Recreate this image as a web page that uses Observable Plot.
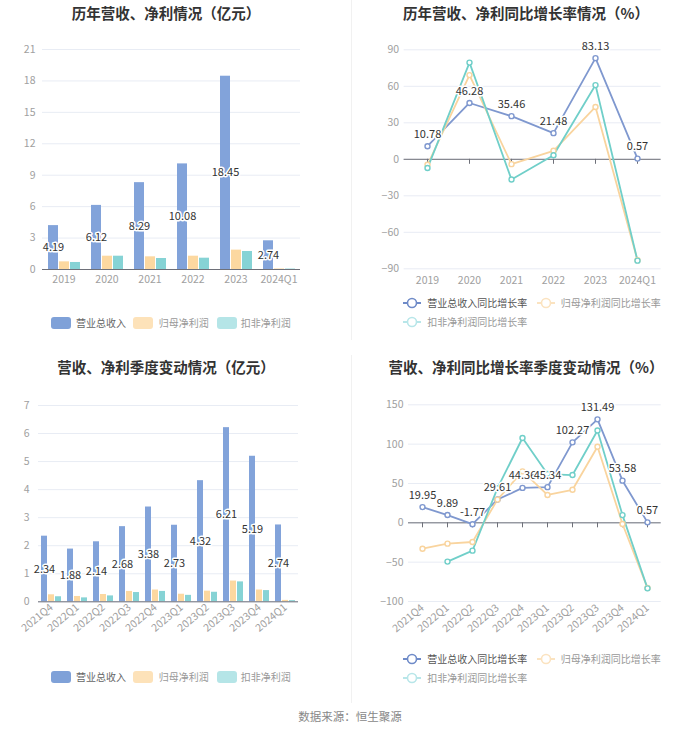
<!DOCTYPE html>
<html><head><meta charset="utf-8">
<script src="https://cdn.jsdelivr.net/npm/d3@7"></script>
<script src="https://cdn.jsdelivr.net/npm/@observablehq/plot@0.6"></script>
<style>
body{margin:0;background:#fff;font-family:"Noto Sans CJK SC","Noto Sans",sans-serif;}
#page{position:relative;width:700px;height:734px;overflow:hidden;background:#fff;}
.title{position:absolute;text-align:center;font-size:14.5px;font-weight:bold;color:#333;line-height:20px;white-space:nowrap;}
.chart{position:absolute;}
.leg{position:absolute;font-size:10px;color:#777;line-height:14px;white-space:nowrap;}
.sw{position:absolute;width:20px;height:12px;border-radius:3px;}
.sep{position:absolute;left:351px;width:1px;background:#f1f1f1;}
.cap{position:absolute;left:0;width:700px;top:708px;text-align:center;font-size:11.5px;color:#888;line-height:16px;}
</style></head>
<body>
<div id="page">
  <div class="sep" style="top:0;height:340px"></div>
  <div class="sep" style="top:355px;height:348px"></div>
  <div class="title" style="left:0;width:332px;top:3px">历年营收、净利情况（亿元）</div>
  <div class="title" style="left:352px;width:348px;top:3px">历年营收、净利同比增长率情况（%）</div>
  <div class="title" style="left:0;width:332px;top:357px">营收、净利季度变动情况（亿元）</div>
  <div class="title" style="left:352px;width:348px;top:357px">营收、净利同比增长率季度变动情况（%）</div>
  <div id="c1" class="chart" style="left:0;top:30px"></div>
  <div id="c2" class="chart" style="left:350px;top:30px"></div>
  <div id="c3" class="chart" style="left:0;top:385px"></div>
  <div id="c4" class="chart" style="left:350px;top:385px"></div>
  <div id="legends"></div>
  <div class="cap">数据来源：恒生聚源</div>
</div>
<script>
// ---------- data ----------
const years = ["2019", "2020", "2021", "2022", "2023", "2024Q1"];
const annualRevenue = [4.19, 6.12, 8.29, 10.08, 18.45, 2.74];
const annualNetProfit = [0.73, 1.27, 1.21, 1.27, 1.85, 0.05];
const annualDeductedProfit = [0.67, 1.27, 1.05, 1.08, 1.72, 0.04];

const annualRevenueGrowth = [10.78, 46.28, 35.46, 21.48, 83.13, 0.57];
const annualNetProfitGrowth = [-4.5, 69.2, -4.0, 7.0, 43.0, -83.0];
const annualDeductedGrowth = [-7.2, 79.5, -16.6, 3.3, 61.0, -83.3];

const quarters = ["2021Q4", "2022Q1", "2022Q2", "2022Q3", "2022Q4", "2023Q1", "2023Q2", "2023Q3", "2023Q4", "2024Q1"];
const quarterRevenue = [2.34, 1.88, 2.14, 2.68, 3.38, 2.73, 4.32, 6.21, 5.19, 2.74];
const quarterNetProfit = [0.25, 0.19, 0.26, 0.37, 0.42, 0.27, 0.38, 0.74, 0.42, 0.05];
const quarterDeductedProfit = [0.18, 0.14, 0.21, 0.33, 0.37, 0.23, 0.34, 0.71, 0.40, 0.04];

const quarterRevenueGrowth = [19.95, 9.89, -1.77, 29.61, 44.36, 45.34, 102.27, 131.49, 53.58, 0.57];
const quarterNetProfitGrowth = [-32.9, -26.5, -24.4, 29.5, 65.4, 35.4, 42.0, 96.6, -1.5, -82.8];
const quarterDeductedGrowth = [null, -49.3, -35.4, 44.0, 107.8, 62.0, 60.7, 117.3, 9.8, -83.3];

const barTicksAnnual = [0, 3, 6, 9, 12, 15, 18, 21];
const barTicksQuarter = [0, 1, 2, 3, 4, 5, 6, 7];
const growthTicksAnnual = [-90, -60, -30, 0, 30, 60, 90];
const growthTicksQuarter = [-100, -50, 0, 50, 100, 150];

const seriesNames = ["营业总收入", "归母净利润", "扣非净利润"];
const growthNames = ["营业总收入同比增长率", "归母净利润同比增长率", "扣非净利润同比增长率"];
const barColors = ["#82a3da", "#fcd8a0", "#86d3d5"];
const lineColors = ["#7f98cf", "#f9d49e", "#70cfc9"];
const legendBarColors = ["#7fa1d8", "#fde2b9", "#b5e5e7"];
const legendLineColors = ["#6f8bc8", "#fbe3c0", "#b8e6e9"];

// ---------- helpers ----------
function toRows(cats, arrays, names) {
  const rows = [];
  cats.forEach((c, i) => arrays.forEach((arr, k) => rows.push({cat: c, series: names[k], value: arr[i]})));
  return rows;
}
const baseStyle = {color: "#a0a0a0", fontSize: "10.5px", fontFamily: "'Noto Sans CJK SC', sans-serif", background: "transparent", overflow: "visible"};

function barChart(o) {
  const rows = toRows(o.cats, o.values, seriesNames);
  const revRows = rows.filter(d => d.series === seriesNames[0]);
  return Plot.plot({
    width: o.width, height: o.height,
    marginTop: o.mt, marginBottom: o.mb, marginLeft: o.ml, marginRight: o.mr,
    style: baseStyle,
    fx: {domain: o.cats, padding: 0, label: null},
    x: {domain: seriesNames, paddingInner: o.pi, paddingOuter: o.po, axis: null},
    y: {domain: o.yDomain, label: null},
    color: {domain: seriesNames, range: barColors},
    marks: [
      Plot.gridY(o.yTicks, {stroke: "#e8ecf4", strokeOpacity: 1}),
      Plot.axisY(o.yTicks, {tickSize: 0, tickPadding: o.ytp, label: null}),
      Plot.axisFx({anchor: "bottom", tickSize: 0, tickPadding: o.xtp, tickRotate: o.rotate || 0, label: null}),
      Plot.barY(rows, {fx: "cat", x: "series", y: "value", fill: "series"}),
      Plot.ruleY([0], {stroke: "#6e7079"}),
      Plot.text(revRows, {fx: "cat", x: "series", y: d => d.value / 2, text: d => d.value.toFixed(2),
        fill: "#333", stroke: "white", strokeWidth: 3, fontSize: 11})
    ]
  });
}

function lineChart(o) {
  const rows = toRows(o.cats, o.values, growthNames);
  const revRows = rows.filter(d => d.series === growthNames[0]);
  return Plot.plot({
    width: o.width, height: o.height,
    marginTop: o.mt, marginBottom: o.mb, marginLeft: o.ml, marginRight: o.mr,
    style: baseStyle,
    x: {type: "point", domain: o.cats, padding: 0.5, label: null},
    y: {domain: o.yDomain, label: null},
    color: {domain: growthNames, range: lineColors},
    marks: [
      Plot.gridY(o.yTicks, {stroke: "#e8ecf4", strokeOpacity: 1}),
      Plot.axisY(o.yTicks, {tickSize: 0, tickPadding: o.ytp, label: null}),
      Plot.axisX({anchor: "bottom", tickSize: 0, tickPadding: o.xtp, tickRotate: o.rotate || 0, label: null}),
      Plot.ruleY([0], {stroke: "#6e7079"}),
      Plot.ruleX(o.cats, {x: d => d, y1: 0, y2: 0, insetBottom: -5, stroke: "#6e7079"}),
      Plot.line(rows, {x: "cat", y: "value", z: "series", stroke: "series", strokeWidth: 1.8}),
      Plot.dot(rows, {x: "cat", y: "value", stroke: "series", fill: "white", r: 2.5, strokeWidth: 1.4}),
      Plot.text(revRows, {x: "cat", y: "value", text: d => d.value.toFixed(2), dy: -12,
        fill: "#333", stroke: "white", strokeWidth: 3, fontSize: 11})
    ]
  });
}

// ---------- charts ----------
document.getElementById("c1").append(barChart({
  cats: years, values: [annualRevenue, annualNetProfit, annualDeductedProfit],
  width: 350, height: 264, mt: 19, mb: 25, ml: 40, mr: 49,
  pi: 0.13, po: 0.45, yDomain: [0, 21], yTicks: barTicksAnnual, ytp: 7, xtp: 6
}));
document.getElementById("c2").append(lineChart({
  cats: years, values: [annualRevenueGrowth, annualNetProfitGrowth, annualDeductedGrowth],
  width: 350, height: 264, mt: 19.3, mb: 25.7, ml: 53.6, mr: 39.4,
  yDomain: [-90, 90], yTicks: growthTicksAnnual, ytp: 5, xtp: 8
}));
document.getElementById("c3").append(barChart({
  cats: quarters, values: [quarterRevenue, quarterNetProfit, quarterDeductedProfit],
  width: 350, height: 280, mt: 20, mb: 63.7, ml: 34, mr: 49,
  pi: 0.2, po: 0.38, yDomain: [0, 7], yTicks: barTicksQuarter, ytp: 9, xtp: 4, rotate: -40
}));
document.getElementById("c4").append(lineChart({
  cats: quarters, values: [quarterRevenueGrowth, quarterNetProfitGrowth, quarterDeductedGrowth],
  width: 350, height: 280, mt: 19.3, mb: 64, ml: 58, mr: 39.3,
  yDomain: [-100, 150], yTicks: growthTicksQuarter, ytp: 5, xtp: 5, rotate: -40
}));

// ---------- legends ----------
const leg = document.getElementById("legends");
function barLegend(cy) {
  const swX = [50.7, 133.3, 216.7], txX = [76, 158.7, 240.7];
  seriesNames.forEach((n, i) => {
    const s = document.createElement("div");
    s.className = "sw";
    s.style.cssText = `left:${swX[i]}px;top:${cy - 6}px;background:${legendBarColors[i]}`;
    leg.append(s);
    const t = document.createElement("div");
    t.className = "leg";
    t.style.cssText = `left:${txX[i]}px;top:${cy - 7}px;color:${i === 0 ? "#666" : "#999"}`;
    t.textContent = n;
    leg.append(t);
  });
}
function lineLegend(cy1, cy2) {
  const pos = [[403.3, 427.3, cy1], [536.7, 560.7, cy1], [403.3, 427.3, cy2]];
  growthNames.forEach((n, i) => {
    const [ix, tx, cy] = pos[i];
    const ns = "http://www.w3.org/2000/svg";
    const svg = document.createElementNS(ns, "svg");
    svg.setAttribute("width", 20); svg.setAttribute("height", 14);
    svg.style.cssText = `position:absolute;left:${ix - 1}px;top:${cy - 7}px`;
    const l = document.createElementNS(ns, "line");
    l.setAttribute("x1", 1); l.setAttribute("x2", 19); l.setAttribute("y1", 7); l.setAttribute("y2", 7);
    l.setAttribute("stroke", legendLineColors[i]); l.setAttribute("stroke-width", 2);
    const c = document.createElementNS(ns, "circle");
    c.setAttribute("cx", 10); c.setAttribute("cy", 7); c.setAttribute("r", 4.5);
    c.setAttribute("fill", "white"); c.setAttribute("stroke", legendLineColors[i]); c.setAttribute("stroke-width", 1.6);
    svg.append(l, c);
    leg.append(svg);
    const t = document.createElement("div");
    t.className = "leg";
    t.style.cssText = `left:${tx}px;top:${cy - 7}px;color:${i === 0 ? "#555" : "#999"}`;
    t.textContent = n;
    leg.append(t);
  });
}
barLegend(322.5);
lineLegend(303.3, 321.7);
barLegend(677.3);
lineLegend(659.3, 678);
</script>
</body></html>
